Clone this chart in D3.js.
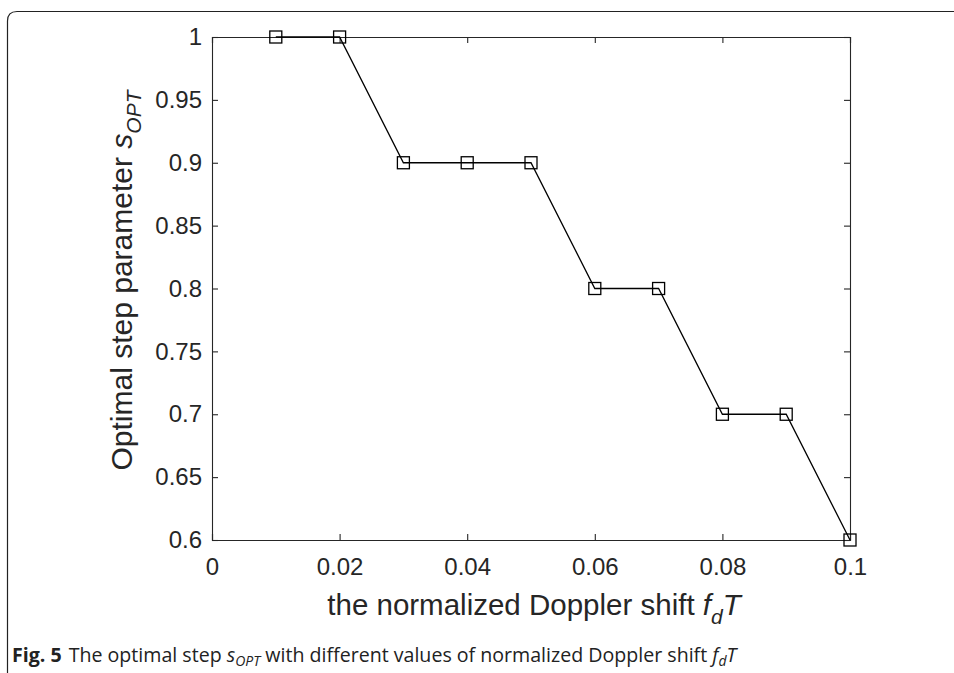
<!DOCTYPE html>
<html>
<head>
<meta charset="utf-8">
<script src="https://cdn.jsdelivr.net/npm/d3@7"></script>
<style>
  body { margin: 0; background: #fff; }
  svg { display: block; }
</style>
</head>
<body>
<div id="chart"></div>
<script>
// data
var dopplerShift = [0.01, 0.02, 0.03, 0.04, 0.05, 0.06, 0.07, 0.08, 0.09, 0.1];
var stepOpt = [1, 1, 0.9, 0.9, 0.9, 0.8, 0.8, 0.7, 0.7, 0.6];
var xTicks = [0, 0.02, 0.04, 0.06, 0.08, 0.1];
var yTicks = [0.6, 0.65, 0.7, 0.75, 0.8, 0.85, 0.9, 0.95, 1];

var svgWidth = 954;
var svgHeight = 673;

var margin = { top: 37, right: 104, bottom: 133, left: 212 };
var width = svgWidth - margin.left - margin.right;
var height = svgHeight - margin.top - margin.bottom;

var svg = d3.select("#chart")
  .append("svg")
  .attr("width", svgWidth)
  .attr("height", svgHeight);

// figure frame (only top-left part is visible)
svg.append("path")
  .attr("d", "M7.5,680 L7.5,21 Q7.5,11.5 17,11.5 L960,11.5")
  .attr("fill", "none")
  .attr("stroke", "#222")
  .attr("stroke-width", 1.2);

var chartGroup = svg.append("g")
  .attr("transform", `translate(${margin.left}, ${margin.top})`);

var xScale = d3.scaleLinear().domain([0, 0.1]).range([0, width]);
var yScale = d3.scaleLinear().domain([0.6, 1]).range([height, 0]);

var axisColor = "#262626";
var tickLen = 6;
var mainFont = "Liberation Sans, Arial, sans-serif";

// axes with inward ticks
var bottomAxis = d3.axisBottom(xScale).tickValues(xTicks)
  .tickSize(-tickLen).tickPadding(18).tickFormat(d => String(+d.toFixed(2)));
var topAxis = d3.axisTop(xScale).tickValues(xTicks).tickSize(-tickLen).tickFormat("");
var leftAxis = d3.axisLeft(yScale).tickValues(yTicks)
  .tickSize(-tickLen).tickPadding(10).tickFormat(d => String(+d.toFixed(2)));
var rightAxis = d3.axisRight(yScale).tickValues(yTicks).tickSize(-tickLen).tickFormat("");

function styleAxis(g) {
  g.select(".domain").attr("stroke", axisColor).attr("stroke-width", 1.1);
  g.selectAll(".tick line").attr("stroke", axisColor).attr("stroke-width", 1.1);
  g.selectAll(".tick text")
    .attr("fill", axisColor)
    .attr("font-family", mainFont)
    .attr("font-size", "24px");
}

chartGroup.append("g").attr("transform", `translate(0, ${height})`).call(bottomAxis).call(styleAxis);
chartGroup.append("g").call(topAxis).call(styleAxis);
chartGroup.append("g").call(leftAxis).call(styleAxis);
chartGroup.append("g").attr("transform", `translate(${width}, 0)`).call(rightAxis).call(styleAxis);

// line
var points = dopplerShift.map((d, i) => [d, stepOpt[i]]);
chartGroup.append("path")
  .datum(points)
  .attr("fill", "none")
  .attr("stroke", "#000")
  .attr("stroke-width", 1.3)
  .attr("d", d3.line().x(d => xScale(d[0])).y(d => yScale(d[1])));

// square markers
var mk = 12;
chartGroup.selectAll("rect.marker")
  .data(points)
  .enter()
  .append("rect")
  .attr("class", "marker")
  .attr("x", d => xScale(d[0]) - mk / 2)
  .attr("y", d => yScale(d[1]) - mk / 2)
  .attr("width", mk)
  .attr("height", mk)
  .attr("fill", "none")
  .attr("stroke", "#000")
  .attr("stroke-width", 1.3);

// x axis label
var xLabel = chartGroup.append("text")
  .attr("x", width / 2 + 3)
  .attr("y", height + 75)
  .attr("text-anchor", "middle")
  .attr("fill", axisColor)
  .attr("font-family", mainFont)
  .attr("font-size", "29.5px");
xLabel.append("tspan").text("the normalized Doppler shift ");
xLabel.append("tspan").attr("font-style", "italic").text("f");
xLabel.append("tspan").attr("font-style", "italic").attr("font-size", "21px").attr("dy", 9).text("d");
xLabel.append("tspan").attr("font-style", "italic").attr("dy", -9).text("T");

// y axis label
var yLabel = chartGroup.append("text")
  .attr("transform", `translate(-80, ${height / 2 - 8}) rotate(-90)`)
  .attr("text-anchor", "middle")
  .attr("fill", axisColor)
  .attr("font-family", mainFont)
  .attr("font-size", "30px");
yLabel.append("tspan").text("Optimal step parameter ");
yLabel.append("tspan").attr("font-style", "italic").text("s");
yLabel.append("tspan").attr("font-style", "italic").attr("font-size", "21px").attr("dy", 9).text("OPT");

// caption
var caption = svg.append("text")
  .attr("x", 12)
  .attr("y", 662)
  .attr("fill", "#222")
  .attr("font-family", "Open Sans, sans-serif")
  .attr("font-size", "19.6px");
caption.append("tspan").attr("font-weight", "bold").text("Fig. 5");
caption.append("tspan").attr("dx", 7).text("The optimal step ");
caption.append("tspan").attr("font-style", "italic").text("s");
caption.append("tspan").attr("font-style", "italic").attr("font-size", "14px").attr("dy", 4).text("OPT");
caption.append("tspan").attr("dy", -4).text(" with different values of normalized Doppler shift ");
caption.append("tspan").attr("font-style", "italic").text("f");
caption.append("tspan").attr("font-style", "italic").attr("font-size", "14px").attr("dy", 4).text("d");
caption.append("tspan").attr("font-style", "italic").attr("dy", -4).text("T");
</script>
</body>
</html>
